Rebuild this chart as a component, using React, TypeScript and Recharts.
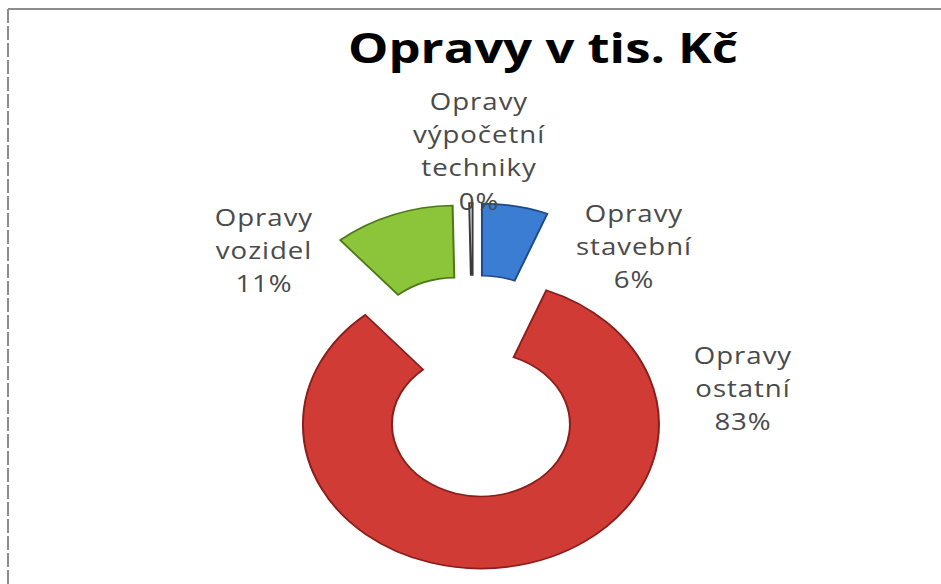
import React from 'react';
import { PieChart, Pie, Cell } from 'recharts';

// ---- data ----
const categories = ['Opravy stavební', 'Opravy ostatní', 'Opravy vozidel', 'Opravy výpočetní techniky'];
const values = [6, 83, 11, 0.3];
const colors = ['#3A7DD2', '#D13B36', '#8CC43A', '#FFFFFF'];
const strokes = ['#1D4A86', '#8A1E1A', '#4C7818', '#3A3A3A'];

// ---- layout ----
const W = 941;
const H = 584;
const CX = 473;
const CY = 386;
const OUTER = 178;
const INNER = 89;
const SQUASH = 0.81;
const EXPLODE = 48;
const START = 90;
const END = -270;
const TEXT_STRETCH = 1.2;
const LINE_H = 33.5;
const labelAnchors = [
  [634, 213],
  [743, 355],
  [264, 217],
  [479, 101],
];

const data = categories.map((name, i) => ({ name, value: values[i] }));
const total = values.reduce((a, b) => a + b, 0);
const offsets = (() => {
  let cum = 0;
  return values.map((v) => {
    const mid = START - ((cum + v / 2) / total) * 360;
    cum += v;
    const r = (mid * Math.PI) / 180;
    return { dx: EXPLODE * Math.cos(r), dy: -EXPLODE * Math.sin(r) };
  });
})();

const sliceTransform = (i: number) =>
  `translate(0px, ${CY}px) scale(1, ${SQUASH}) translate(0px, ${-CY}px) translate(${offsets[i].dx}px, ${offsets[i].dy}px)`;

const css = offsets
  .map(
    (_, i) =>
      `.slice-${i}{transform:${sliceTransform(i)};transform-origin:0 0;transform-box:view-box;}`
  )
  .join('\n');

const renderLabel = (props: any) => {
  const { index, percent, name } = props;
  const [x, y] = labelAnchors[index];
  const lines = [...String(name).split(' '), `${Math.round(percent * 100)}%`];
  return (
    <g key={`lbl-${index}`} transform={`translate(${x} ${y}) scale(${TEXT_STRETCH} 1)`}>
      {lines.map((ln, j) => (
        <text
          key={j}
          x={0}
          y={j * LINE_H + 8.5}
          textAnchor="middle"
          fontFamily="'Open Sans', sans-serif"
          fontSize={23}
          letterSpacing={0.8}
          fill="#4A4A4A"
        >
          {ln}
        </text>
      ))}
    </g>
  );
};

export default function App() {
  return (
    <div style={{ position: 'absolute', left: 0, top: 0, width: W, height: H, background: '#ffffff' }}>
      <style>{css}</style>
      <svg
        width={W}
        height={H}
        style={{ position: 'absolute', left: 0, top: 0, pointerEvents: 'none' }}
      >
        <line x1={8} y1={9} x2={W} y2={9} stroke="#8C8C8C" strokeWidth={2} />
        <line x1={8} y1={9} x2={8} y2={H} stroke="#8C8C8C" strokeWidth={2} strokeDasharray="14 3" />
        <text
          x={543}
          y={63}
          textAnchor="middle"
          fontFamily="'Open Sans', sans-serif"
          fontWeight={700}
          fontSize={42}
          textLength={390}
          lengthAdjust="spacingAndGlyphs"
          fill="#000000"
        >
          Opravy v tis. Kč
        </text>
      </svg>
      <div style={{ position: 'absolute', left: 0, top: 0 }}>
        <PieChart width={W} height={H} margin={{ top: 0, right: 0, bottom: 0, left: 0 }}>
          <Pie
            data={data}
            dataKey="value"
            nameKey="name"
            cx={CX}
            cy={CY}
            innerRadius={INNER}
            outerRadius={OUTER}
            startAngle={START}
            endAngle={END}
            isAnimationActive={false}
            label={renderLabel}
            labelLine={false}
          >
            {data.map((d, i) => (
              <Cell
                key={d.name}
                fill={colors[i]}
                stroke={strokes[i]}
                strokeWidth={2}
                className={`slice-${i}`}
              />
            ))}
          </Pie>
        </PieChart>
      </div>
    </div>
  );
}
